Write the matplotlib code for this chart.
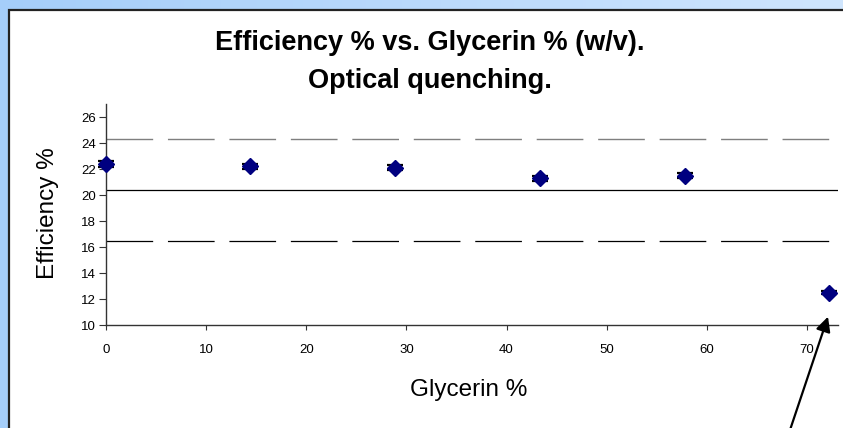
import numpy as np
import matplotlib
matplotlib.use("Agg")
import matplotlib.pyplot as plt
from matplotlib.patches import Rectangle
from matplotlib.colors import LinearSegmentedColormap

plt.rcParams['font.family'] = ['Liberation Sans', 'DejaVu Sans']
plt.rcParams['lines.scale_dashes'] = False

glycerin = [0, 14.4, 28.9, 43.3, 57.8, 72.2]
efficiency = [22.4, 22.2, 22.1, 21.3, 21.5, 12.5]
errors = [0.23, 0.2, 0.2, 0.2, 0.2, 0.15]
mean_line = 20.35
upper_line = 24.3
lower_line = 16.45
yticks = [10, 12, 14, 16, 18, 20, 22, 24, 26]
xticks = [0, 10, 20, 30, 40, 50, 60, 70]

W, H = 843, 428
fig = plt.figure(figsize=(W / 100, H / 100), dpi=100)

# background gradient
bg = fig.add_axes([0, 0, 1, 1], zorder=-10)
grad = np.linspace(0, 1, 256)[None, :]
cmap = LinearSegmentedColormap.from_list('bg', ['#a5cefa', '#cfe5fd'])
bg.imshow(grad, aspect='auto', cmap=cmap, extent=[0, 1, 0, 1])
bg.set_axis_off()
bg.add_patch(Rectangle((8.5 / W, -0.1), 1.2, (H - 9.5) / H + 0.1,
                       transform=bg.transAxes, facecolor='white',
                       edgecolor='#222222', lw=1.6, zorder=5))

ax = fig.add_axes([106 / W, (H - 325) / H, (838 - 106) / W, (325 - 104) / H])
ax.set_facecolor('none')
ax.set_xlim(0, 73.1)
ax.set_ylim(10, 27)

ax.axhline(mean_line, color='black', lw=0.9, zorder=1)
l1 = ax.axhline(upper_line, color='#7f7f7f', lw=1.0, zorder=1)
l2 = ax.axhline(lower_line, color='black', lw=0.9, zorder=1)
for l in (l1, l2):
    l.set_dashes((33.6, 10.65))

ax.errorbar(glycerin, efficiency, yerr=errors, fmt='D', color='#000080',
            markersize=8.5, ecolor='black', elinewidth=1.2, capsize=5.5,
            capthick=1.6, zorder=3, clip_on=False)

ax.set_xticks(xticks)
ax.set_yticks(yticks)
ax.tick_params(axis='both', labelsize=9.5, color='#333333', direction='out')
ax.tick_params(axis='y', length=5, pad=2)
ax.tick_params(axis='x', length=3.6, pad=10)
for s in ('top', 'right'):
    ax.spines[s].set_visible(False)
for s in ('left', 'bottom'):
    ax.spines[s].set_color('#333333')
    ax.spines[s].set_linewidth(1.0)

fig.text(430 / W, 1 - 43 / H, 'Efficiency % vs. Glycerin % (w/v).',
         ha='center', va='center', fontsize=19.5, fontweight='bold')
fig.text(430 / W, 1 - 81 / H, 'Optical quenching.',
         ha='center', va='center', fontsize=19.5, fontweight='bold')

fig.text(48 / W, 1 - 213 / H, 'Efficiency %', rotation=90, ha='center',
         va='center', fontsize=17.5)
fig.text(469 / W, 1 - 390 / H, 'Glycerin %', ha='center', va='center',
         fontsize=17.5)

ax.annotate('', xy=(72.1, 10.64), xytext=(790, -2), textcoords='figure pixels',
            arrowprops=dict(arrowstyle='-|>', mutation_scale=22, lw=1.6,
                            color='black', shrinkA=0, shrinkB=0),
            annotation_clip=False)

fig.savefig('out.png', dpi=100)
